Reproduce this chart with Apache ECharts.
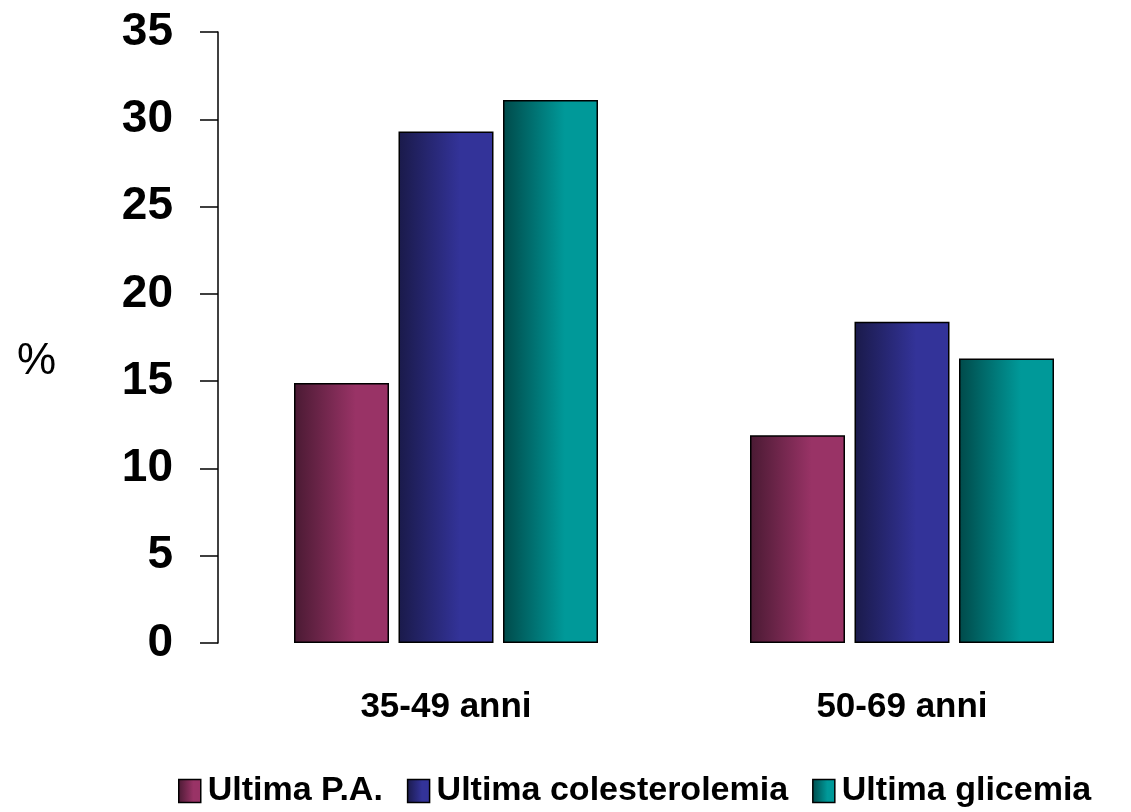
<!DOCTYPE html>
<html>
<head>
<meta charset="utf-8">
<script src="https://cdn.jsdelivr.net/npm/echarts@6/dist/echarts.min.js"></script>
<style>
  html, body { margin: 0; padding: 0; background: #fff; }
  #chart { width: 1131px; height: 812px; }
</style>
</head>
<body>
<div id="chart"></div>
<script>
  // dati
  var categories = ['35-49 anni', '50-69 anni'];
  var seriesNames = ['Ultima P.A.', 'Ultima colesterolemia', 'Ultima glicemia'];
  var paValues = [14.9, 11.9];
  var colValues = [29.3, 18.4];
  var gliValues = [31.1, 16.3];
  var yTicks = [0, 5, 10, 15, 20, 25, 30, 35];

  var font = 'Liberation Sans, Arial, sans-serif';

  function grad(dark, light) {
    return new echarts.graphic.LinearGradient(0, 0, 1, 0, [
      {offset: 0, color: dark},
      {offset: 0.65, color: light},
      {offset: 1, color: light}
    ]);
  }

  function bar(name, data, dark, light) {
    return {
      name: name,
      type: 'bar',
      data: data,
      barWidth: 95,
      barGap: '10%',
      itemStyle: {
        color: grad(dark, light),
        borderColor: '#000',
        borderWidth: 1.5
      }
    };
  }

  var myChart = echarts.init(document.getElementById('chart'));
  var option = {
    animation: false,
    title: {
      text: '%',
      left: 12,
      top: 335,
      textStyle: {fontFamily: font, fontSize: 44, fontWeight: 'normal', color: '#000'}
    },
    legend: {
      data: seriesNames,
      left: 173,
      top: 769,
      itemWidth: 22,
      itemHeight: 23,
      itemGap: 24,
      icon: 'rect',
      textStyle: {fontFamily: font, fontSize: 34, fontWeight: 'bold', color: '#000', padding: [0, 0, 0, 2]},
      itemStyle: {borderColor: '#000', borderWidth: 1.5}
    },
    grid: {left: 218, right: 1, top: 32, bottom: 169},
    xAxis: {
      type: 'category',
      data: categories,
      axisLine: {show: false},
      axisTick: {show: false},
      axisLabel: {
        margin: 47,
        fontFamily: font, fontSize: 35, fontWeight: 'bold', color: '#000'
      }
    },
    yAxis: {
      type: 'value',
      min: yTicks[0],
      max: yTicks[yTicks.length - 1],
      interval: 5,
      axisLine: {show: true, lineStyle: {color: '#000', width: 1.5}},
      axisTick: {show: true, length: 18, lineStyle: {color: '#000', width: 1.5}},
      splitLine: {show: false},
      axisLabel: {
        margin: 45,
        fontFamily: font, fontSize: 46, fontWeight: 'bold', color: '#000'
      }
    },
    series: [
      bar(seriesNames[0], paValues, '#4a1a33', '#993366'),
      bar(seriesNames[1], colValues, '#1a1a4a', '#333399'),
      bar(seriesNames[2], gliValues, '#004a4a', '#009999')
    ]
  };
  myChart.setOption(option);
</script>
</body>
</html>
